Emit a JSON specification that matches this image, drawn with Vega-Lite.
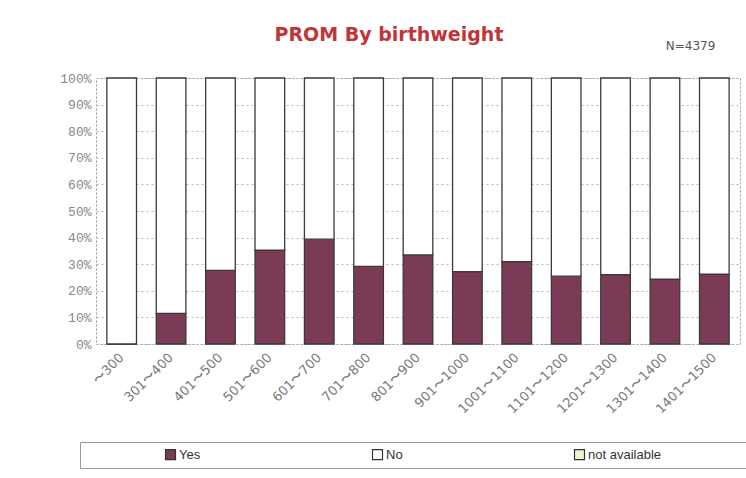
{
  "$schema": "https://vega.github.io/schema/vega-lite/v6.json",
  "autosize": "none",
  "width": 644,
  "height": 266,
  "padding": {"left": 96, "top": 78, "right": 6, "bottom": 134},
  "background": "white",
  "title": {
    "text": "PROM By birthweight",
    "font": "DejaVu Sans",
    "fontSize": 19,
    "fontWeight": "bold",
    "color": "#c23438",
    "anchor": "middle",
    "dx": -29,
    "dy": 40,
    "offset": 34
  },
  "data": {
    "values": [
      {"bw": "〜300", "status": "Yes", "pct": 0},
      {"bw": "〜300", "status": "No", "pct": 100},
      {"bw": "301〜400", "status": "Yes", "pct": 11.5},
      {"bw": "301〜400", "status": "No", "pct": 88.5},
      {"bw": "401〜500", "status": "Yes", "pct": 27.7},
      {"bw": "401〜500", "status": "No", "pct": 72.3},
      {"bw": "501〜600", "status": "Yes", "pct": 35.3},
      {"bw": "501〜600", "status": "No", "pct": 64.7},
      {"bw": "601〜700", "status": "Yes", "pct": 39.4},
      {"bw": "601〜700", "status": "No", "pct": 60.6},
      {"bw": "701〜800", "status": "Yes", "pct": 29.2},
      {"bw": "701〜800", "status": "No", "pct": 70.8},
      {"bw": "801〜900", "status": "Yes", "pct": 33.5},
      {"bw": "801〜900", "status": "No", "pct": 66.5},
      {"bw": "901〜1000", "status": "Yes", "pct": 27.2},
      {"bw": "901〜1000", "status": "No", "pct": 72.8},
      {"bw": "1001〜1100", "status": "Yes", "pct": 31.0},
      {"bw": "1001〜1100", "status": "No", "pct": 69.0},
      {"bw": "1101〜1200", "status": "Yes", "pct": 25.5},
      {"bw": "1101〜1200", "status": "No", "pct": 74.5},
      {"bw": "1201〜1300", "status": "Yes", "pct": 26.1},
      {"bw": "1201〜1300", "status": "No", "pct": 73.9},
      {"bw": "1301〜1400", "status": "Yes", "pct": 24.4},
      {"bw": "1301〜1400", "status": "No", "pct": 75.6},
      {"bw": "1401〜1500", "status": "Yes", "pct": 26.3},
      {"bw": "1401〜1500", "status": "No", "pct": 73.7}
    ]
  },
  "mark": {"type": "bar", "stroke": "#3a3a3a", "strokeWidth": 1.3},
  "encoding": {
    "x": {
      "field": "bw",
      "type": "nominal",
      "sort": null,
      "scale": {"paddingInner": 0.4, "paddingOuter": 0.22},
      "axis": {
        "title": "N=4379",
        "titleFont": "DejaVu Sans",
        "titleFontSize": 12,
        "titleFontWeight": "normal",
        "titleColor": "#555",
        "titleX": 594,
        "titleY": -295,
        "titleAlign": "center",
        "titleBaseline": "alphabetic",
        "labelAngle": -45,
        "labelAlign": "right",
        "labelBaseline": "middle",
        "labelFont": "DejaVu Sans",
        "labelFontSize": 13,
        "labelColor": "#777",
        "labelPadding": 11,
        "ticks": false,
        "domain": false
      }
    },
    "y": {
      "field": "pct",
      "type": "quantitative",
      "stack": "zero",
      "scale": {"domain": [0, 100], "nice": false},
      "axis": {
        "title": null,
        "values": [0, 10, 20, 30, 40, 50, 60, 70, 80, 90, 100],
        "labelExpr": "datum.value + '%'",
        "labelFont": "Liberation Mono",
        "labelFontSize": 13,
        "labelColor": "#888",
        "labelPadding": 5,
        "ticks": false,
        "domain": false,
        "grid": true,
        "gridColor": "#b8b8b8",
        "gridDash": [2, 3],
        "gridWidth": 1
      }
    },
    "color": {
      "field": "status",
      "type": "nominal",
      "scale": {
        "domain": ["Yes", "No", "not available"],
        "range": ["#7b3b57", "#ffffff", "#f3f3cf"]
      },
      "legend": {
        "title": "\u00a0",
        "titleOrient": "right",
        "titlePadding": 90,
        "titleFontSize": 12,
        "orient": "none",
        "legendX": -16,
        "legendY": 364,
        "direction": "horizontal",
        "columns": 3,
        "columnPadding": 92,
        "symbolType": "square",
        "symbolSize": 100,
        "symbolStrokeColor": "#333",
        "symbolStrokeWidth": 1.2,
        "symbolOffset": 78,
        "labelFont": "Liberation Sans",
        "labelFontSize": 13,
        "labelColor": "#333",
        "labelOffset": 2,
        "labelLimit": 400,
        "padding": 6,
        "strokeColor": "#999",
        "fillColor": "white"
      }
    },
    "order": {"field": "status", "sort": "descending"}
  },
  "config": {
    "view": {"stroke": "#999", "strokeDash": [2, 2], "strokeWidth": 1}
  }
}
